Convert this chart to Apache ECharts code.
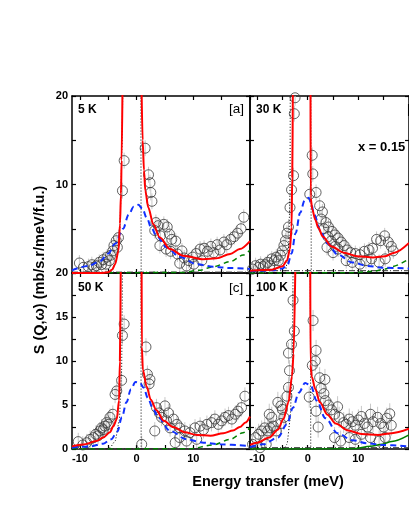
<!DOCTYPE html>
<html><head><meta charset="utf-8">
<script src="https://cdn.jsdelivr.net/npm/echarts@6/dist/echarts.min.js"></script>
<style>html,body{margin:0;padding:0;background:#fff}#c{width:409px;height:529px}</style>
</head><body><div id="c"></div>
<script>
// ---- axes / ticks ----
const X_MIN = -11.4, X_MAX = 20, Y_MIN = 0, Y_MAX = 20;
const xTicks = [-10, -5, 0, 5, 10, 15, 20];
const xLabels = [-10, 0, 10];
const yTicksTop = [0, 5, 10, 15, 20];
const yLabelsTop = [10, 20];
const yTicksBottom = [0, 2.5, 5, 7.5, 10, 12.5, 15, 17.5, 20];
const yLabelsBottom = [0, 5, 10, 15, 20];
const panelNames = ['5 K', '30 K', '50 K', '100 K'];
const panelTags = ['[a]', '[b]', '[c]', '[d]'];
const compositionLabel = 'x = 0.15';
const xTitle = 'Energy transfer (meV)';
const yTitle = 'S (Q,\u03c9) (mb/s.r/meV/f.u.)';

// ---- panel a (5 K) ----
const circlesA = [[-10.1,1.13],[-9.4,0.64],[-8.5,0.72],[-7.9,0.94],[-7.5,0.64],[-7.1,0.83],[-6.6,1.2],[-6.2,0.94],[-5.9,1.5],[-5.4,1.0],[-5.2,1.8],[-4.8,1.4],[-4.6,2.0],[-4.2,2.5],[-4.0,3.1],[-3.6,3.65],[-3.4,2.9],[-3.2,4.0],[-2.5,9.3],[-2.2,12.7],
[1.5,14.1],[2.1,11.1],[2.35,10.2],[2.5,9.1],[2.7,8.1],[3.4,5.7],[3.8,5.35],[4.8,5.5],[5.4,5.2],[3.2,4.8],[4.2,4.2],[5.8,4.4],[6.2,3.8],[6.9,3.6],[4.1,3.1],[5.2,2.7],[6.0,2.45],[7.2,2.15],[8.0,2.5],[8.4,1.7],[9.2,1.4],[9.9,1.8],[10.5,2.2],[11.2,2.7],[11.9,2.8],[12.5,2.45],[13.1,3.0],[13.6,2.3],[14.2,3.2],[14.7,2.6],[15.4,3.5],[15.9,3.2],[16.6,3.8],[17.2,4.1],[17.8,4.5],[18.4,5.0],[18.9,6.3],[7.6,1.1],[8.8,0.8],[10.1,1.0],[11.5,1.4]];
const redLeftA = [[-11.4,0],[-6.5,0],[-5.0,0.08],[-4.3,0.4],[-3.8,1.0],[-3.2,2.5],[-2.94,5.5],[-2.76,8.9],[-2.65,12.7],[-2.5,20.5]];
const redRightA = [[0.88,20.5],[1.06,15.0],[1.3,11.6],[1.53,9.3],[2.06,7.4],[2.94,5.5],[4.1,4.0],[5.9,2.7],[8.2,1.96],[11.8,1.55],[14.1,1.66],[16.5,2.15],[18.2,2.7],[20,3.6]];
const blueA = [[-11.4,0.3],[-8.5,0.8],[-6.5,1.3],[-5.0,2.2],[-3.8,3.3],[-2.4,5.0],[-1.4,6.6],[-0.5,7.5],[0.3,7.7],[1.0,7.3],[1.8,6.2],[2.6,5.1],[3.5,4.2],[5.3,2.9],[7.6,1.8],[10.6,1.0],[13.5,0.7],[16.5,0.56],[20,0.45]];
const greenA = [[-11.4,0],[8,0.05],[11,0.3],[13.5,0.7],[16.5,1.28],[18.8,2.03],[20,2.6]];
const elasticLeftA = [[-5.5,0],[-4.6,0.1],[-3.8,1.0],[-3.2,2.8],[-2.94,5.2],[-2.76,9],[-2.6,14],[-2.45,20.5]];
const elasticRightA = [[0.75,20.5],[0.8,0]];

// ---- panel b (30 K) ----
const circlesB = [[-10.9,0.45],[-10.3,0.83],[-9.7,0.64],[-9.3,1.0],[-8.8,0.72],[-8.4,0.94],[-7.9,1.2],[-7.5,0.83],[-7.1,1.6],[-6.6,1.4],[-6.2,1.8],[-5.8,1.4],[-5.4,2.0],[-5.0,2.5],[-4.7,3.1],[-4.4,3.65],[-4.1,4.5],[-3.8,5.2],[-3.5,7.4],[-3.2,9.4],[-2.8,11.0],[-2.65,18.0],[-2.5,19.8],
[0.88,13.3],[1.0,11.2],[0.4,8.9],[1.65,9.1],[2.35,7.6],[2.9,6.9],[2.65,6.1],[3.6,5.7],[4.1,5.2],[3.2,5.0],[4.8,4.7],[5.4,4.3],[4.0,4.1],[6.0,3.95],[4.6,3.6],[6.6,3.5],[5.4,3.0],[7.2,3.1],[6.0,2.7],[7.8,2.6],[3.8,2.9],[8.5,2.3],[9.4,2.2],[10.3,2.07],[11.2,2.45],[12.1,2.6],[12.8,2.8],[13.6,3.8],[14.4,3.65],[15.2,4.2],[15.9,3.5],[16.5,3.0],[16.9,2.5],[7.6,1.4],[8.8,1.2],[10.3,1.0],[11.5,1.4],[12.6,1.6],[14.1,1.2],[15.3,1.6],[5.0,2.3]];
const redLeftB = [[-11.4,0.26],[-7.1,0.38],[-5.0,0.75],[-4.1,1.4],[-3.5,2.7],[-3.2,5.2],[-3.06,10.8],[-2.94,20.5]];
const redRightB = [[0.55,20.5],[0.58,8.5],[0.9,7.2],[1.5,6.0],[2.1,5.1],[3.0,4.1],[4.7,3.0],[7.1,2.3],[9.75,1.9],[12.9,1.75],[15.3,1.9],[17.1,2.3],[20,3.4]];
const blueB = [[-11.4,0.2],[-7,0.3],[-5,0.5],[-4,0.9],[-3.2,2.2],[-2.4,4.5],[-1.5,6.8],[-0.6,8.2],[0.2,8.5],[0.6,8.0],[1.3,6.6],[2.4,4.9],[3.8,3.4],[5.9,2.1],[8.8,1.2],[11.8,0.8],[14.7,0.6],[20,0.5]];
const greenB = [[-11.4,0],[8.8,0.02],[12.9,0.19],[15.3,0.45],[16.6,0.72],[20,1.6]];
const elasticLeftB = [[-5,0],[-4.4,0.26],[-3.8,2.1],[-3.5,8.9],[-3.45,20.5]];
const elasticRightB = [[0.6,20.5],[0.7,0]];

// ---- panel c (50 K) ----
const circlesC = [[-10.3,0.84],[-9.5,0.46],[-8.8,0.72],[-8.2,1.1],[-7.6,1.3],[-7.2,1.67],[-6.8,1.5],[-6.5,2.05],[-6.2,2.4],[-5.9,2.2],[-5.6,2.6],[-5.3,3.0],[-5.0,2.8],[-4.7,3.6],[-4.2,3.95],[-3.8,6.2],[-3.5,6.6],[-2.65,7.8],[-2.5,12.9],[-2.2,14.2],
[1.65,11.6],[1.9,8.5],[2.35,7.9],[2.2,7.4],[3.5,4.7],[4.0,4.1],[5.0,4.9],[5.6,4.1],[4.4,3.6],[5.3,3.2],[6.5,3.4],[7.1,2.8],[3.2,2.05],[5.9,2.4],[7.6,2.4],[8.5,2.05],[9.4,1.86],[10.3,2.4],[11.2,2.6],[11.8,2.2],[12.4,2.8],[13.2,3.0],[13.8,3.4],[14.4,2.8],[15.0,3.2],[15.6,3.6],[16.2,3.8],[16.8,3.4],[17.4,3.95],[17.9,4.3],[18.5,4.7],[19.1,6.0],[0.9,0.53],[6.8,0.72],[7.6,1.3],[8.8,0.9],[10.6,1.1]];
const redLeftC = [[-11.4,0.3],[-9.4,0.5],[-7.1,0.9],[-5.9,1.3],[-4.7,1.9],[-4.1,2.6],[-3.5,3.4],[-3.1,5.5],[-2.95,10],[-2.8,20.5]];
const redRightC = [[0.88,20.5],[0.92,11.6],[1.1,9.0],[1.76,7.1],[2.5,5.6],[3.5,4.4],[4.8,3.2],[6.45,2.5],[8.5,1.9],[10.6,1.6],[13,1.5],[15.3,1.8],[17,2.1],[18.2,2.5],[19.2,3.0],[20,3.7]];
const blueC = [[-11.4,0.15],[-8.2,0.3],[-5.9,0.6],[-4.5,1.1],[-3.4,2.0],[-2.6,3.6],[-1.8,5.3],[-1.0,6.8],[-0.2,7.6],[0.6,7.5],[1.2,7.0],[2.0,5.8],[2.8,4.7],[3.8,3.6],[5.9,2.05],[8.8,1.1],[11.8,0.72],[14.7,0.53],[20,0.34]];
const greenC = [[-11.4,0],[9.4,0.02],[13.5,0.46],[16.5,1.1],[18.8,1.86],[20,2.4]];
const elasticLeftC = [[-5.3,0],[-4.7,0.15],[-3.8,0.9],[-3.06,3.2],[-2.65,8.9],[-2.5,20.5]];
const elasticRightC = [[0.75,20.5],[0.8,0]];

// ---- panel d (100 K) ----
const circlesD = [[-10.9,0.53],[-10.3,1.3],[-9.7,1.67],[-9.1,2.05],[-8.5,2.4],[-7.9,2.05],[-7.4,2.4],[-6.8,2.6],[-6.2,2.05],[-7.1,3.6],[-7.6,3.95],[-5.9,5.3],[-5.3,4.9],[-5.0,4.5],[-4.7,3.6],[-5.3,2.9],[-4.1,6.0],[-3.8,7.0],[-3.6,8.9],[-3.8,10.9],[-3.2,11.9],[-2.65,13.4],[-2.9,16.9],[-9.4,0.15],[-8.2,0.53],
[1.06,14.6],[1.65,11.2],[1.5,10.0],[0.9,9.5],[0.3,5.9],[2.35,8.1],[3.4,7.9],[2.65,6.9],[3.2,6.3],[3.5,5.5],[1.65,4.3],[4.1,5.0],[4.7,4.45],[5.3,3.95],[5.9,4.8],[6.2,3.6],[2.06,2.5],[7.1,3.0],[7.6,2.8],[8.2,3.4],[8.8,3.1],[9.4,2.7],[10,3.3],[10.6,3.7],[11.2,2.9],[11.8,2.5],[12.4,3.95],[12.9,3.1],[13.8,3.6],[14.4,2.9],[15,2.5],[15.6,3.5],[16.2,4.0],[16.5,2.7],
[5.3,1.3],[6.5,0.9],[8.2,1.3],[9.4,1.1],[10.6,1.67],[12.4,1.3],[14.1,0.9],[15.3,1.3]];
const redLeftD = [[-11.4,0.46],[-10,0.72],[-7.6,1.3],[-5.9,2.2],[-4.8,3.4],[-3.8,5.3],[-3.1,8.3],[-2.8,10.8],[-2.45,20.5]];
const redRightD = [[0.5,20.5],[0.55,9.6],[0.8,8.2],[1.5,6.8],[2.4,5.3],[3.9,3.9],[5.5,2.9],[8,2.1],[10.6,1.7],[13.9,1.6],[16.6,1.8],[20,2.3]];
const blueD = [[-11.4,0.23],[-8.8,0.53],[-5.9,1.3],[-4.1,2.8],[-2.9,4.7],[-1.76,6.4],[-0.5,7.5],[0.6,7.2],[1.76,5.5],[3.5,3.5],[5.9,1.8],[8.8,1.0],[11.8,0.65],[14.7,0.46],[20,0.3]];
const greenD = [[-11.4,0],[9,0.02],[12.4,0.3],[14.7,0.53],[16.6,0.85],[20,1.6]];
const elasticLeftD = [[-5,0],[-4.7,0.05],[-4.1,0.53],[-3.5,3.2],[-3.06,8.9],[-2.9,20.5]];
const elasticRightD = [[0.5,20.5],[0.6,0]];

const errSize = [0.9, 0.9, 1.0, 1.2];
const bgLevel = [0.1, 0.26, 0.05, 0.15];

const panels = [
  {c: circlesA, rl: redLeftA, rr: redRightA, b: blueA, g: greenA, el: elasticLeftA, er: elasticRightA, gSolid: false},
  {c: circlesB, rl: redLeftB, rr: redRightB, b: blueB, g: greenB, el: elasticLeftB, er: elasticRightB, gSolid: false},
  {c: circlesC, rl: redLeftC, rr: redRightC, b: blueC, g: greenC, el: elasticLeftC, er: elasticRightC, gSolid: false},
  {c: circlesD, rl: redLeftD, rr: redRightD, b: blueD, g: greenD, el: elasticLeftD, er: elasticRightD, gSolid: true}
];

const F = 'Liberation Sans, Arial, sans-serif';
const gridPos = [
  {left: 72, top: 96, width: 178, height: 177},
  {left: 250, top: 96, width: 178, height: 177},
  {left: 72, top: 273, width: 178, height: 176},
  {left: 250, top: 273, width: 178, height: 176}
];

const xAxes = [], yAxes = [], series = [];
const axisLineStyle = {color: '#000', width: 1.5};
panels.forEach((p, i) => {
  const row = i < 2 ? 0 : 1, col = i % 2;
  ['bottom', 'top'].forEach(pos => {
    xAxes.push({type: 'value', gridIndex: i, min: X_MIN, max: X_MAX, position: pos,
      axisLine: {show: true, onZero: false, lineStyle: axisLineStyle},
      axisTick: {show: true, inside: true, length: 4, customValues: xTicks, lineStyle: {color: '#000', width: 1.2}},
      axisLabel: {show: pos === 'bottom' && row === 1, customValues: xLabels, color: '#000', fontWeight: 'bold', fontSize: 11, fontFamily: F, margin: 4},
      splitLine: {show: false}});
  });
  ['left', 'right'].forEach(pos => {
    yAxes.push({type: 'value', gridIndex: i, min: Y_MIN, max: Y_MAX, position: pos,
      axisLine: {show: true, onZero: false, lineStyle: axisLineStyle},
      axisTick: {show: true, inside: true, length: 4, customValues: row === 0 ? yTicksTop : yTicksBottom, lineStyle: {color: '#000', width: 1.2}},
      axisLabel: {show: pos === 'left' && col === 0, customValues: row === 0 ? yLabelsTop : yLabelsBottom, color: '#000', fontWeight: 'bold', fontSize: 11, fontFamily: F, margin: 4},
      splitLine: {show: false}});
  });
  const xi = 2 * i, yi = 2 * i;
  const err = errSize[i];
  series.push({type: 'custom', xAxisIndex: xi, yAxisIndex: yi, clip: true, z: 1, silent: true, encode: {x: 0, y: 1},
    data: p.c,
    renderItem: (params, api) => {
      const x = api.value(0), y = api.value(1);
      const a = api.coord([x, y + err]), b = api.coord([x, Math.max(0, y - err)]);
      return {type: 'line', shape: {x1: a[0], y1: a[1], x2: b[0], y2: b[1]}, style: {stroke: '#c8c8c8', lineWidth: 1}};
    }});
  series.push({type: 'scatter', xAxisIndex: xi, yAxisIndex: yi, data: p.c, symbol: 'circle', symbolSize: 10, z: 2, silent: true,
    itemStyle: {color: 'rgba(0,0,0,0)', borderColor: '#3a3a3a', borderWidth: 1}});
  const line = (data, color, width, type, smooth, z) => ({type: 'line', xAxisIndex: xi, yAxisIndex: yi, data, symbol: 'none', showSymbol: false,
    smooth, smoothMonotone: 'x', lineStyle: {color, width, type}, z, silent: true, clip: true});
  series.push(line([[X_MIN, bgLevel[i]], [X_MAX, bgLevel[i]]], '#333', 1, [6, 2, 1, 2], false, 3));
  series.push(line(p.g, '#008000', 1.5, p.gSolid ? 'solid' : [5, 4], 0.3, 3));
  series.push(line(p.el, '#000', 1, [1, 2], 0.2, 4));
  series.push(line(p.er, '#000', 1, [1, 2], false, 4));
  series.push(line(p.b, '#1030ff', 2, [6, 4], 0.35, 5));
  series.push(line(p.rl, '#ff0000', 2, 'solid', 0.3, 6));
  series.push(line(p.rr, '#ff0000', 2, 'solid', 0.3, 6));
});

const nameY = [110.5, 110.5, 288.5, 288.5];
const tagY = [110.5, 110.5, 289.5, 289.5];
const graphic = [];
panels.forEach((p, i) => {
  const g = gridPos[i];
  graphic.push({type: 'text', left: g.left + (i % 2 === 0 ? 6 : 6), top: nameY[i] - 7, style: {text: panelNames[i], font: 'bold 12px ' + F, fill: '#000'}});
  graphic.push({type: 'text', left: g.left + 157, top: tagY[i] - 8, style: {text: panelTags[i], font: '13.5px ' + F, fill: '#000'}});
});
graphic.push({type: 'text', left: 358, top: 141, style: {text: compositionLabel, font: 'bold 13px ' + F, fill: '#000'}});
graphic.push({type: 'text', x: 268, y: 482, style: {text: xTitle, font: 'bold 14.5px ' + F, fill: '#000', align: 'center', verticalAlign: 'middle'}});
graphic.push({type: 'text', x: 40, y: 270, rotation: Math.PI / 2, style: {text: yTitle, font: 'bold 14.5px ' + F, fill: '#000', align: 'center', verticalAlign: 'middle'}});

const chart = echarts.init(document.getElementById('c'), null, {renderer: 'canvas'});
chart.setOption({
  backgroundColor: '#fff',
  animation: false,
  grid: gridPos,
  xAxis: xAxes,
  yAxis: yAxes,
  series,
  graphic
});
</script></body></html>
